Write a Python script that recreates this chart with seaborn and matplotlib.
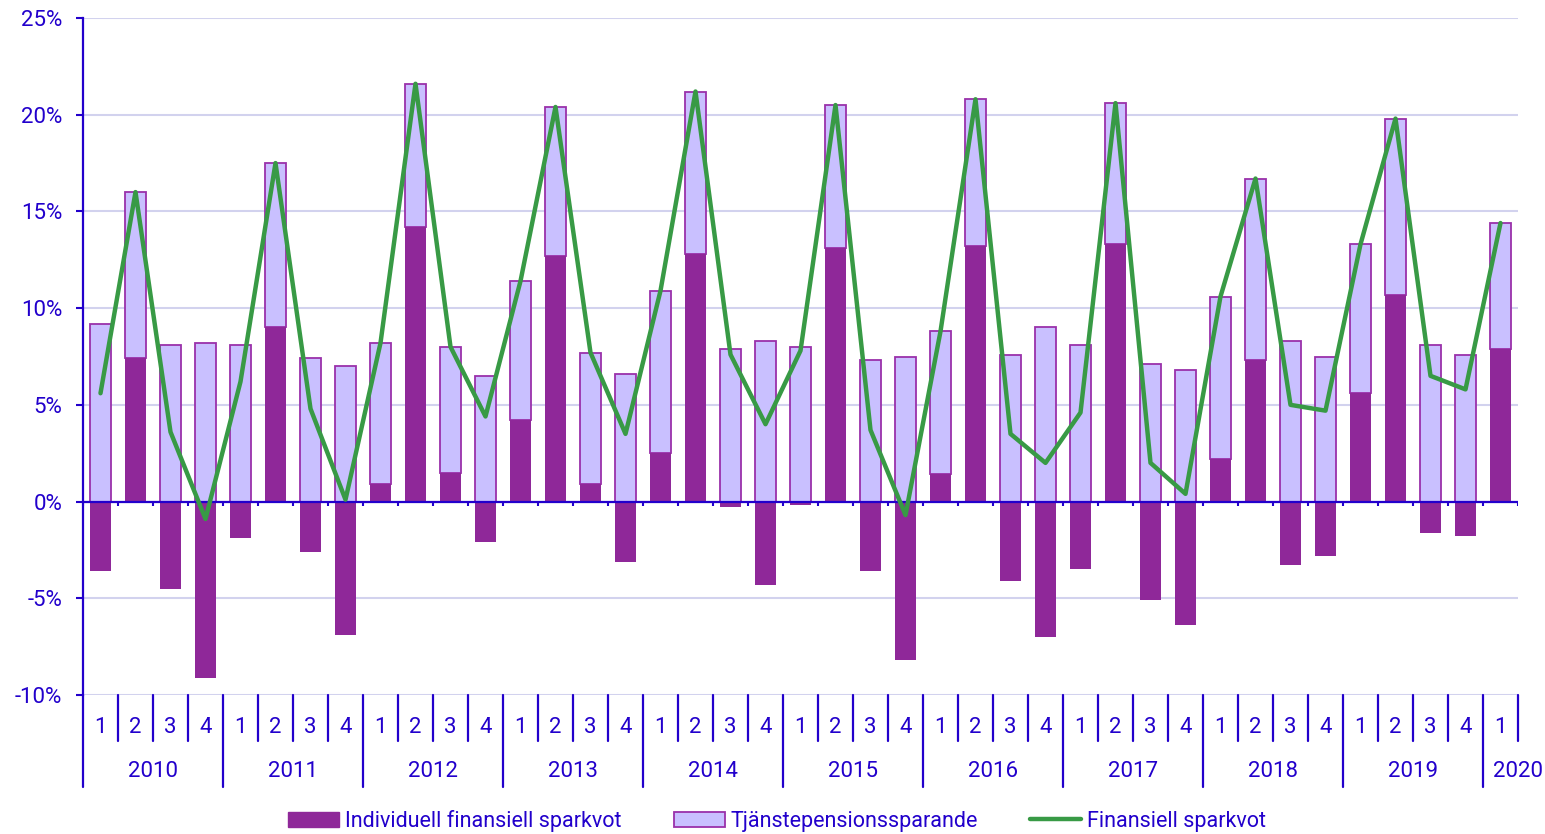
import numpy as np
import pandas as pd
import matplotlib
matplotlib.use("Agg")
import matplotlib.pyplot as plt
import seaborn as sns
from matplotlib.patches import Patch
from matplotlib.lines import Line2D
from matplotlib.ticker import FuncFormatter

# --- data (percent) ---
years = ["2010", "2011", "2012", "2013", "2014", "2015", "2016", "2017", "2018", "2019", "2020"]
quarters = ["1", "2", "3", "4"] * 10 + ["1"]

individuell = [-3.6, 7.4, -4.5, -9.1,
               -1.9, 9.0, -2.6, -6.9,
               0.9, 14.2, 1.5, -2.1,
               4.2, 12.7, 0.9, -3.1,
               2.5, 12.8, -0.3, -4.3,
               -0.2, 13.1, -3.6, -8.2,
               1.4, 13.2, -4.1, -7.0,
               -3.5, 13.3, -5.1, -6.4,
               2.2, 7.3, -3.3, -2.8,
               5.6, 10.7, -1.6, -1.8,
               7.9]
tjanstepension = [9.2, 8.6, 8.1, 8.2,
                  8.1, 8.5, 7.4, 7.0,
                  7.3, 7.4, 6.5, 6.5,
                  7.2, 7.7, 6.8, 6.6,
                  8.4, 8.4, 7.9, 8.3,
                  8.0, 7.4, 7.3, 7.5,
                  7.4, 7.6, 7.6, 9.0,
                  8.1, 7.3, 7.1, 6.8,
                  8.4, 9.4, 8.3, 7.5,
                  7.7, 9.1, 8.1, 7.6,
                  6.5]
finansiell = [5.6, 16.0, 3.6, -0.9,
              6.2, 17.5, 4.8, 0.1,
              8.2, 21.6, 8.0, 4.4,
              11.4, 20.4, 7.7, 3.5,
              10.9, 21.2, 7.6, 4.0,
              7.8, 20.5, 3.7, -0.7,
              8.8, 20.8, 3.5, 2.0,
              4.6, 20.6, 2.0, 0.4,
              10.6, 16.7, 5.0, 4.7,
              13.3, 19.8, 6.5, 5.8,
              14.4]

BLUE = "#2200CC"
DARK = "#8F2899"
LIGHT = "#C9C0FF"
EDGE = "#9A30AA"
GREEN = "#389A45"
GRID = "#D2D2EE"
FS = 16

sns.set_theme(style="white")
plt.rcParams["font.family"] = ["Roboto", "DejaVu Sans"]

df = pd.DataFrame({"pos": np.arange(len(individuell)),
                   "ind": individuell, "tj": tjanstepension, "fin": finansiell})
base = df["ind"].clip(lower=0)

W, H = 1545, 834
fig = plt.figure(figsize=(W / 100, H / 100), dpi=100)
ax = fig.add_axes([83 / W, 1 - 695 / H, (1518 - 83) / W, (695 - 18) / H])

# stacked bars: pension savings on top of the positive individual part
ax.bar(df["pos"], df["tj"], bottom=base, width=0.6, color=LIGHT,
       edgecolor=EDGE, linewidth=1.3, zorder=2)
sns.barplot(data=df, x="pos", y="ind", native_scale=True, width=0.6,
            color=DARK, saturation=1, linewidth=0, errorbar=None, ax=ax, zorder=3)
ax.axhline(0, color=BLUE, lw=1.6, zorder=3.5)
ax.vlines(np.arange(-0.5, len(df)), -0.25, 0, color=BLUE, lw=1.5, zorder=3.5)
sns.lineplot(data=df, x="pos", y="fin", color=GREEN, linewidth=3.2, ax=ax, zorder=4)

ax.set_xlim(-0.5, len(df) - 0.5)
ax.set_ylim(-10, 25)
ax.set_yticks(range(-10, 26, 5))
ax.yaxis.set_major_formatter(FuncFormatter(lambda v, p: f"{v:.0f}%"))
ax.yaxis.grid(True, color=GRID, lw=1.5)
ax.set_axisbelow(True)
ax.set_xticks([])
ax.set_xlabel("")
ax.set_ylabel("")
for s in ["top", "right", "bottom"]:
    ax.spines[s].set_visible(False)
ax.spines["left"].set_color(BLUE)
ax.spines["left"].set_linewidth(1.6)
ax.tick_params(axis="y", color=BLUE, labelcolor=BLUE, length=5, width=1.5,
               labelsize=FS, pad=10, left=True)

# two-level category axis below the plot
trans = ax.get_xaxis_transform()
for i, q in enumerate(quarters):
    ax.text(i, -0.0473, q, transform=trans, ha="center", va="center",
            color=BLUE, fontsize=FS)
for b in range(len(df) + 1):
    low = -0.136 if (b % 4 == 0 and b < len(df)) else -0.068
    ax.plot([b - 0.5, b - 0.5], [0, low], transform=trans, color=BLUE,
            lw=1.6, clip_on=False)
for k, y in enumerate(years):
    n = min(4, len(df) - 4 * k)
    xc = 4 * k + (n - 1) / 2 if n == 4 else len(df) - 0.5
    ax.text(xc, -0.1137, y, transform=trans, ha="center", va="center",
            color=BLUE, fontsize=FS)

handles = [Patch(facecolor=DARK, edgecolor=DARK),
           Patch(facecolor=LIGHT, edgecolor=EDGE, linewidth=1.3),
           Line2D([0], [0], color=GREEN, lw=3.2)]
labels = ["Individuell finansiell sparkvot", "Tjänstepensionssparande", "Finansiell sparkvot"]
fig.legend(handles, labels, loc="center", bbox_to_anchor=(777 / W, 1 - 821 / H),
           ncol=3, frameon=False, fontsize=15.5, handlelength=2.37, handleheight=0.75,
           handletextpad=0.28, columnspacing=2.4, labelcolor=BLUE)

fig.savefig("out.png", dpi=100)
